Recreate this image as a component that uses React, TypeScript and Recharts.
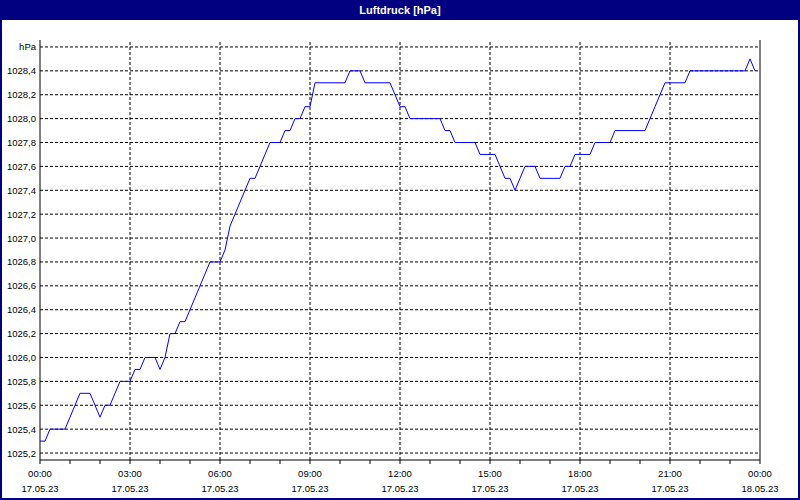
import React from "react";
import { Line, LineChart, ReferenceLine, XAxis, YAxis } from "recharts";

// air pressure, one reading every 10 minutes from 17.05.23 00:00
const pressure = [
  1025.3, 1025.3, 1025.4, 1025.4, 1025.4, 1025.4, 1025.5, 1025.6, 1025.7, 1025.7,
  1025.7, 1025.6, 1025.5, 1025.6, 1025.6, 1025.7, 1025.8, 1025.8, 1025.8, 1025.9,
  1025.9, 1026.0, 1026.0, 1026.0, 1025.9, 1026.0, 1026.2, 1026.2, 1026.3, 1026.3,
  1026.4, 1026.5, 1026.6, 1026.7, 1026.8, 1026.8, 1026.8, 1026.9, 1027.1, 1027.2,
  1027.3, 1027.4, 1027.5, 1027.5, 1027.6, 1027.7, 1027.8, 1027.8, 1027.8, 1027.9,
  1027.9, 1028.0, 1028.0, 1028.1, 1028.1, 1028.3, 1028.3, 1028.3, 1028.3, 1028.3,
  1028.3, 1028.3, 1028.4, 1028.4, 1028.4, 1028.3, 1028.3, 1028.3, 1028.3, 1028.3,
  1028.3, 1028.2, 1028.1, 1028.1, 1028.0, 1028.0, 1028.0, 1028.0, 1028.0, 1028.0,
  1028.0, 1027.9, 1027.9, 1027.8, 1027.8, 1027.8, 1027.8, 1027.8, 1027.7, 1027.7,
  1027.7, 1027.7, 1027.6, 1027.5, 1027.5, 1027.4, 1027.5, 1027.6, 1027.6, 1027.6,
  1027.5, 1027.5, 1027.5, 1027.5, 1027.5, 1027.6, 1027.6, 1027.7, 1027.7, 1027.7,
  1027.7, 1027.8, 1027.8, 1027.8, 1027.8, 1027.9, 1027.9, 1027.9, 1027.9, 1027.9,
  1027.9, 1027.9, 1028.0, 1028.1, 1028.2, 1028.3, 1028.3, 1028.3, 1028.3, 1028.3,
  1028.4, 1028.4, 1028.4, 1028.4, 1028.4, 1028.4, 1028.4, 1028.4, 1028.4, 1028.4,
  1028.4, 1028.4, 1028.5, 1028.4,
];
const stepMinutes = 10;

const yTicks = [
  1025.2, 1025.4, 1025.6, 1025.8, 1026.0, 1026.2, 1026.4, 1026.6, 1026.8,
  1027.0, 1027.2, 1027.4, 1027.6, 1027.8, 1028.0, 1028.2, 1028.4, 1028.6,
];
const unitLabel = "hPa";
const hourTicks = Array.from({ length: 25 }, (_, h) => h * 60);
const gridMinutes = [180, 360, 540, 720, 900, 1080, 1260];
const timeLabels = ["00:00", "03:00", "06:00", "09:00", "12:00", "15:00", "18:00", "21:00", "00:00"];
const dateLabels = ["17.05.23", "17.05.23", "17.05.23", "17.05.23", "17.05.23", "17.05.23", "17.05.23", "17.05.23", "18.05.23"];

const data = pressure.map((value, i) => ({ t: i * stepMinutes, value }));

const FONT = "'Liberation Sans', Arial, sans-serif";
const NAVY = "#000080";
const LABEL_SIZE = 9.5;

function YTick({ x, y, payload }: any) {
  const v = payload.value;
  const label = v > 1028.5 ? unitLabel : v.toFixed(1).replace(".", ",");
  return (
    <text x={x - 4} y={y} textAnchor="end" dominantBaseline="central" fontSize={LABEL_SIZE} fontFamily={FONT} fill="#000">
      {label}
    </text>
  );
}

function XTick({ x, y, payload }: any) {
  const m = payload.value;
  const line = <line x1={x} x2={x} y1={y} y2={y + 4} stroke="#000" strokeWidth={1} />;
  if (m % 180 !== 0) return <g>{line}</g>;
  const k = m / 180;
  return (
    <g>
      {line}
      <text x={x} y={y + 13} textAnchor="middle" dominantBaseline="central" fontSize={LABEL_SIZE} fontFamily={FONT} fill="#000">
        {timeLabels[k]}
      </text>
      <text x={x} y={y + 28.5} textAnchor="middle" dominantBaseline="central" fontSize={LABEL_SIZE} fontFamily={FONT} fill="#000">
        {dateLabels[k]}
      </text>
    </g>
  );
}

export default function App() {
  return (
    <div
      style={{
        position: "absolute",
        left: 0,
        top: 0,
        width: 800,
        height: 500,
        boxSizing: "border-box",
        border: `2px solid ${NAVY}`,
        background: "#fff",
        overflow: "hidden",
      }}
    >
      <div
        style={{
          position: "absolute",
          left: 0,
          top: 0,
          width: 796,
          height: 18,
          background: NAVY,
          color: "#fff",
          fontFamily: FONT,
          fontWeight: "bold",
          fontSize: 11,
          lineHeight: "17px",
          textAlign: "center",
        }}
      >
        Luftdruck [hPa]
      </div>
      <div style={{ position: "absolute", left: -2, top: -2 }}>
        <LineChart width={800} height={500} data={data} margin={{ top: 40, right: 40, bottom: 0, left: 0 }}>
          <XAxis
            dataKey="t"
            type="number"
            domain={[0, 1440]}
            ticks={hourTicks}
            interval={0}
            height={40}
            axisLine={{ stroke: "#000" }}
            tickLine={false}
            tickSize={0}
            tickMargin={0}
            tick={<XTick />}
          />
          <YAxis
            type="number"
            domain={[1025.1417, 1028.6583]}
            ticks={yTicks}
            interval={0}
            width={40}
            axisLine={{ stroke: "#000" }}
            tickLine={false}
            tickSize={0}
            tickMargin={0}
            tick={<YTick />}
            allowDataOverflow
          />
          {yTicks.map((v) => (
            <ReferenceLine key={`y${v}`} y={v} stroke="#000" strokeDasharray="3 2" />
          ))}
          {gridMinutes.map((m) => (
            <ReferenceLine key={`x${m}`} x={m} stroke="#000" strokeDasharray="3 2" />
          ))}
          <ReferenceLine x={1440} stroke="#000" />
          <Line
            type="linear"
            dataKey="value"
            stroke="#0000ff"
            strokeWidth={1}
            dot={false}
            isAnimationActive={false}
          />
        </LineChart>
      </div>
    </div>
  );
}
